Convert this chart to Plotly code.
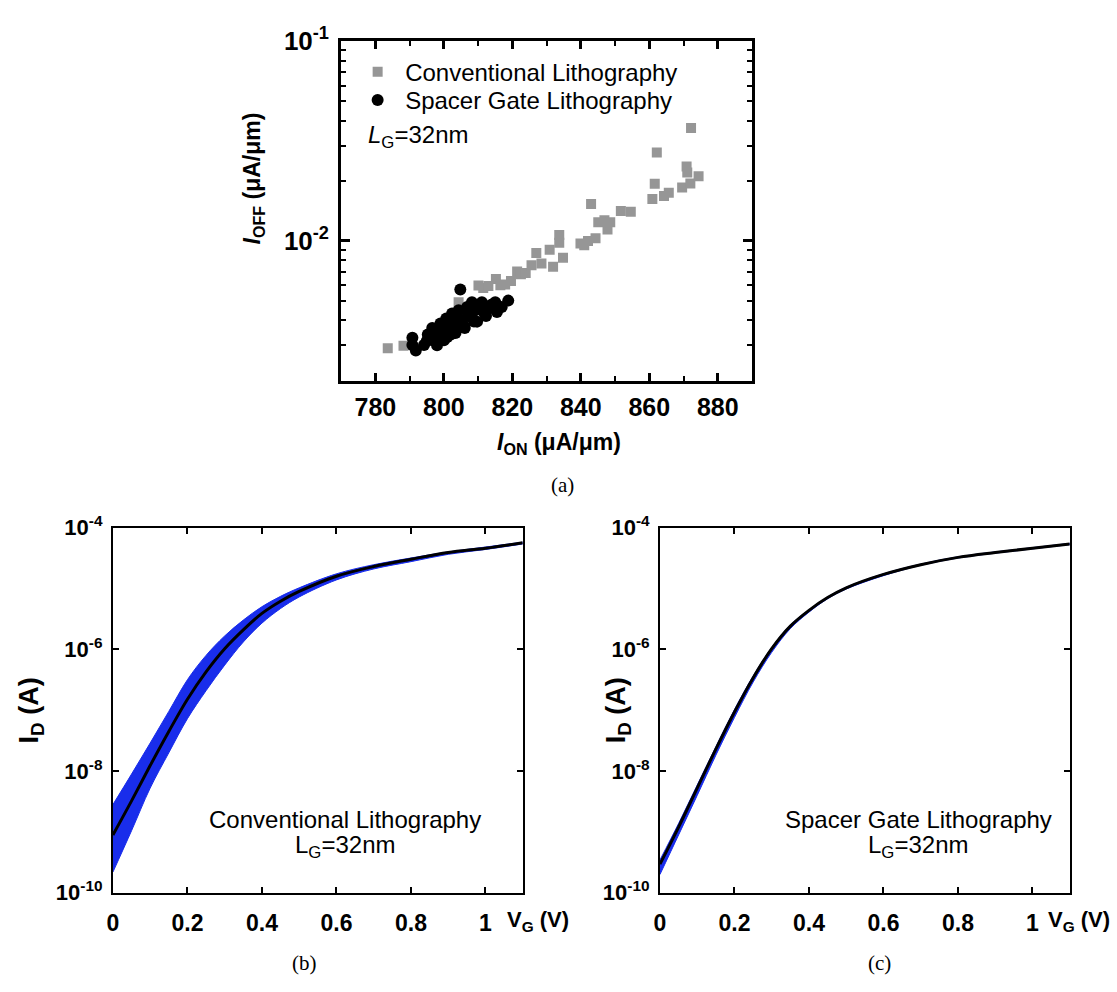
import numpy as np
import plotly.graph_objects as go

# ---------------- (a) Ion / Ioff scatter ----------------
conv_ion = [783.6, 788.2, 796.0, 800.0, 804.3, 806.0, 810.1, 811.5, 813.0, 815.2,
            816.5, 817.9, 819.6, 821.4, 822.5, 823.9, 825.6, 827.0, 828.5, 830.9,
            831.9, 833.7, 833.7, 834.8, 839.9, 841.0, 842.1, 843.0, 844.3, 845.1,
            846.9, 847.8, 848.6, 851.7, 854.6, 860.9, 861.6, 862.2, 864.3, 865.7,
            869.6, 870.9, 871.1, 872.0, 872.2, 874.4]
conv_ioff = [0.00290, 0.00298, 0.00340, 0.00375, 0.00493, 0.00430, 0.00598, 0.00580, 0.00595, 0.00645,
             0.00600, 0.00605, 0.00630, 0.00702, 0.00680, 0.00690, 0.00754, 0.00869, 0.00770, 0.00902,
             0.00743, 0.01070, 0.00980, 0.00824, 0.00970, 0.00950, 0.01000, 0.01530, 0.01030, 0.01240,
             0.01270, 0.01140, 0.01240, 0.01410, 0.01400, 0.01620, 0.01930, 0.02770, 0.01680, 0.01740,
             0.01850, 0.02360, 0.02200, 0.01940, 0.03680, 0.02110]

spacer_ion = [790.8, 790.8, 791.8, 794.2, 795.0, 795.3, 796.6, 797.1, 797.6, 798.6,
              799.0, 800.0, 800.2, 800.7, 801.4, 802.0, 802.4, 802.9, 803.4, 804.0,
              804.3, 804.8, 805.3, 805.8, 806.1, 806.8, 807.2, 807.7, 808.2, 808.8,
              809.2, 809.7, 810.5, 811.1, 811.6, 812.3, 813.0, 814.0, 815.0, 815.5,
              816.9, 818.8, 798.0, 801.0, 803.0]
spacer_ioff = [0.00327, 0.00301, 0.00282, 0.00301, 0.00315, 0.00340, 0.00366, 0.00327, 0.00315, 0.00346,
               0.00386, 0.00318, 0.00355, 0.00409, 0.00366, 0.00340, 0.00433, 0.00386, 0.00346, 0.00410,
               0.00449, 0.00571, 0.00402, 0.00375, 0.00366, 0.00466, 0.00430, 0.00417, 0.00493, 0.00395,
               0.00449, 0.00394, 0.00470, 0.00493, 0.00440, 0.00420, 0.00457, 0.00480, 0.00493, 0.00440,
               0.00466, 0.00502, 0.00300, 0.00330, 0.00370]

# ---------------- (b), (c) Id-Vg transfer curves ----------------
vg = [0.0, 0.05, 0.1, 0.15, 0.2, 0.25, 0.3, 0.35, 0.4, 0.45, 0.5, 0.6, 0.7, 0.8, 0.9, 1.0, 1.1]

# log10(Id) of the mean device and the spread of all devices, conventional lithography
conv_mean_log = [-9.05, -8.49, -7.91, -7.35, -6.82, -6.37, -5.99, -5.68, -5.41, -5.21, -5.05,
                 -4.80, -4.64, -4.52, -4.41, -4.34, -4.25]
conv_upper_log = [-8.55, -8.05, -7.54, -7.02, -6.50, -6.10, -5.78, -5.52, -5.30, -5.13, -4.99,
                  -4.76, -4.61, -4.50, -4.40, -4.32, -4.24]
conv_lower_log = [-9.66, -8.98, -8.28, -7.70, -7.14, -6.68, -6.26, -5.88, -5.57, -5.33, -5.14,
                  -4.86, -4.68, -4.56, -4.44, -4.36, -4.27]

# spacer gate lithography
spacer_mean_log = [-9.53, -8.92, -8.28, -7.64, -7.03, -6.47, -5.99, -5.62, -5.36, -5.15, -4.99,
                   -4.77, -4.61, -4.49, -4.41, -4.34, -4.27]
spacer_upper_log = [-9.46, -8.86, -8.23, -7.60, -6.99, -6.44, -5.97, -5.60, -5.35, -5.14, -4.98,
                    -4.76, -4.60, -4.48, -4.40, -4.33, -4.26]
spacer_lower_log = [-9.70, -9.05, -8.40, -7.74, -7.12, -6.54, -6.05, -5.66, -5.39, -5.17, -5.01,
                    -4.79, -4.62, -4.50, -4.42, -4.35, -4.28]

W, H = 1117, 992
def px(x):
    return x / W
def py(y):
    return 1 - y / H

SANS = "Liberation Sans, Arial, Helvetica, sans-serif"
SERIF = "Liberation Serif, Times New Roman, serif"
BLUE = "rgb(25,45,235)"

def to_id(lst):
    return [10 ** v for v in lst]

fig = go.Figure()

# (a)
fig.add_trace(go.Scatter(x=conv_ion, y=conv_ioff, mode="markers", name="Conventional Lithography",
                         marker=dict(symbol="square", size=10, color="rgb(150,150,150)"),
                         xaxis="x", yaxis="y", legend="legend"))
fig.add_trace(go.Scatter(x=spacer_ion, y=spacer_ioff, mode="markers", name="Spacer Gate Lithography",
                         marker=dict(symbol="circle", size=12, color="black"),
                         xaxis="x", yaxis="y", legend="legend2"))

# (b)
fig.add_trace(go.Scatter(x=vg, y=to_id(conv_lower_log), mode="lines", line=dict(color=BLUE, width=1, shape="spline"),
                         showlegend=False, xaxis="x2", yaxis="y2"))
fig.add_trace(go.Scatter(x=vg, y=to_id(conv_upper_log), mode="lines", line=dict(color=BLUE, width=1, shape="spline"),
                         fill="tonexty", fillcolor=BLUE, showlegend=False, xaxis="x2", yaxis="y2"))
fig.add_trace(go.Scatter(x=vg, y=to_id(conv_mean_log), mode="lines", line=dict(color="black", width=3, shape="spline"),
                         showlegend=False, xaxis="x2", yaxis="y2"))

# (c)
fig.add_trace(go.Scatter(x=vg, y=to_id(spacer_lower_log), mode="lines", line=dict(color=BLUE, width=1, shape="spline"),
                         showlegend=False, xaxis="x3", yaxis="y3"))
fig.add_trace(go.Scatter(x=vg, y=to_id(spacer_upper_log), mode="lines", line=dict(color=BLUE, width=1, shape="spline"),
                         fill="tonexty", fillcolor=BLUE, showlegend=False, xaxis="x3", yaxis="y3"))
fig.add_trace(go.Scatter(x=vg, y=to_id(spacer_mean_log), mode="lines", line=dict(color="black", width=3, shape="spline"),
                         showlegend=False, xaxis="x3", yaxis="y3"))

def bold(size):
    return dict(family=SANS, size=size, color="black", weight="bold")

ion_ticks = [780, 800, 820, 840, 860, 880]
ion_minor = [770, 790, 810, 830, 850, 870, 890]
ioff_ticks = [0.01, 0.1]
ioff_text = ["10<sup>-2</sup>", "10<sup>-1</sup>"]
ioff_minor = [0.002, 0.003, 0.004, 0.005, 0.006, 0.007, 0.008, 0.009,
              0.02, 0.03, 0.04, 0.05, 0.06, 0.07, 0.08, 0.09]

vg_ticks = [0, 0.2, 0.4, 0.6, 0.8, 1.0]
vg_text = ["0", "0.2", "0.4", "0.6", "0.8", "1"]
id_ticks = [1e-10, 1e-8, 1e-6, 1e-4]
id_text = ["10<sup>-10</sup>", "10<sup>-8</sup>", "10<sup>-6</sup>", "10<sup>-4</sup>"]

common = dict(showgrid=False, zeroline=False, showline=True, linecolor="black", mirror="ticks",
              ticks="inside", tickcolor="black")

legend_style = dict(xanchor="left", yanchor="middle", font=dict(family=SANS, size=24, color="black"),
                    bgcolor="rgba(0,0,0,0)", itemwidth=45, borderwidth=0)

fig.update_layout(
    xaxis=dict(domain=[px(337), px(750)], range=[770, 890], anchor="y",
               tickmode="array", tickvals=ion_ticks, ticklen=8, tickwidth=2.5, linewidth=3,
               minor=dict(tickmode="array", tickvals=ion_minor, ticks="inside", ticklen=5, tickwidth=2, tickcolor="black"),
               tickfont=bold(25), ticklabelstandoff=2, **common),
    yaxis=dict(domain=[py(375), py(24)], type="log", range=[np.log10(0.00198), -1], anchor="x",
               tickmode="array", tickvals=ioff_ticks, ticktext=ioff_text, ticklen=9, tickwidth=2.5, linewidth=3,
               minor=dict(tickmode="array", tickvals=ioff_minor, ticks="inside", ticklen=5, tickwidth=2, tickcolor="black"),
               tickfont=bold(26), ticklabelstandoff=4, **common),
    xaxis2=dict(domain=[px(107.5), px(519.5)], range=[0, 1.1], anchor="y2",
                tickmode="array", tickvals=vg_ticks, ticktext=vg_text, ticklen=6, tickwidth=2, linewidth=2,
                tickfont=bold(23), ticklabelstandoff=9, **common),
    yaxis2=dict(domain=[py(903), py(526)], type="log", range=[-10, -4], anchor="x2",
                tickmode="array", tickvals=id_ticks, ticktext=id_text, ticklen=6, tickwidth=2, linewidth=2,
                tickfont=bold(22), ticklabelstandoff=4, **common),
    xaxis3=dict(domain=[px(657.5), px(1069.5)], range=[0, 1.1], anchor="y3",
                tickmode="array", tickvals=vg_ticks, ticktext=vg_text, ticklen=6, tickwidth=2, linewidth=2,
                tickfont=bold(23), ticklabelstandoff=9, **common),
    yaxis3=dict(domain=[py(903), py(526)], type="log", range=[-10, -4], anchor="x3",
                tickmode="array", tickvals=id_ticks, ticktext=id_text, ticklen=6, tickwidth=2, linewidth=2,
                tickfont=bold(22), ticklabelstandoff=4, **common),
    width=W, height=H, margin=dict(l=0, r=0, t=0, b=0),
    paper_bgcolor="white", plot_bgcolor="white",
    showlegend=True,
    legend=dict(x=px(346), y=py(56), **legend_style),
    legend2=dict(x=px(346), y=py(85), **legend_style),
)

def ann(text, x, y, size=24, weight="normal", family=SANS, angle=0, xanchor="center", yanchor="middle"):
    fig.add_annotation(text=text, x=px(x), y=py(y), xref="paper", yref="paper", showarrow=False,
                       textangle=angle, xanchor=xanchor, yanchor=yanchor,
                       font=dict(family=family, size=size, color="black", weight=weight))

# (a) labels
ann("<i>L</i><sub>G</sub>=32nm", 362, 122, size=24, xanchor="left")
ann("<i>I</i><sub>OFF</sub> (μA/μm)", 249, 166, size=23, weight="bold", angle=-90)
ann("<i>I</i><sub>ON</sub> (μA/μm)", 556, 439, size=23, weight="bold")
ann("(a)", 560, 482, size=21, family=SERIF)

# (b) labels
ann("Conventional Lithography", 341, 827, size=24)
ann("L<sub>G</sub>=32nm", 341, 855, size=24)
ann("I<sub>D</sub> (A)", 25, 715, size=27, weight="bold", angle=-90)
ann("V<sub>G</sub> (V)", 502, 932, size=22, weight="bold", xanchor="left")
ann("(b)", 300, 975, size=21, family=SERIF)

# (c) labels
ann("Spacer Gate Lithography", 917, 827, size=24)
ann("L<sub>G</sub>=32nm", 917, 855, size=24)
ann("I<sub>D</sub> (A)", 615, 715, size=27, weight="bold", angle=-90)
ann("V<sub>G</sub> (V)", 1046, 932, size=22, weight="bold", xanchor="left")
ann("(c)", 878, 975, size=21, family=SERIF)

fig.write_html("out.html")
